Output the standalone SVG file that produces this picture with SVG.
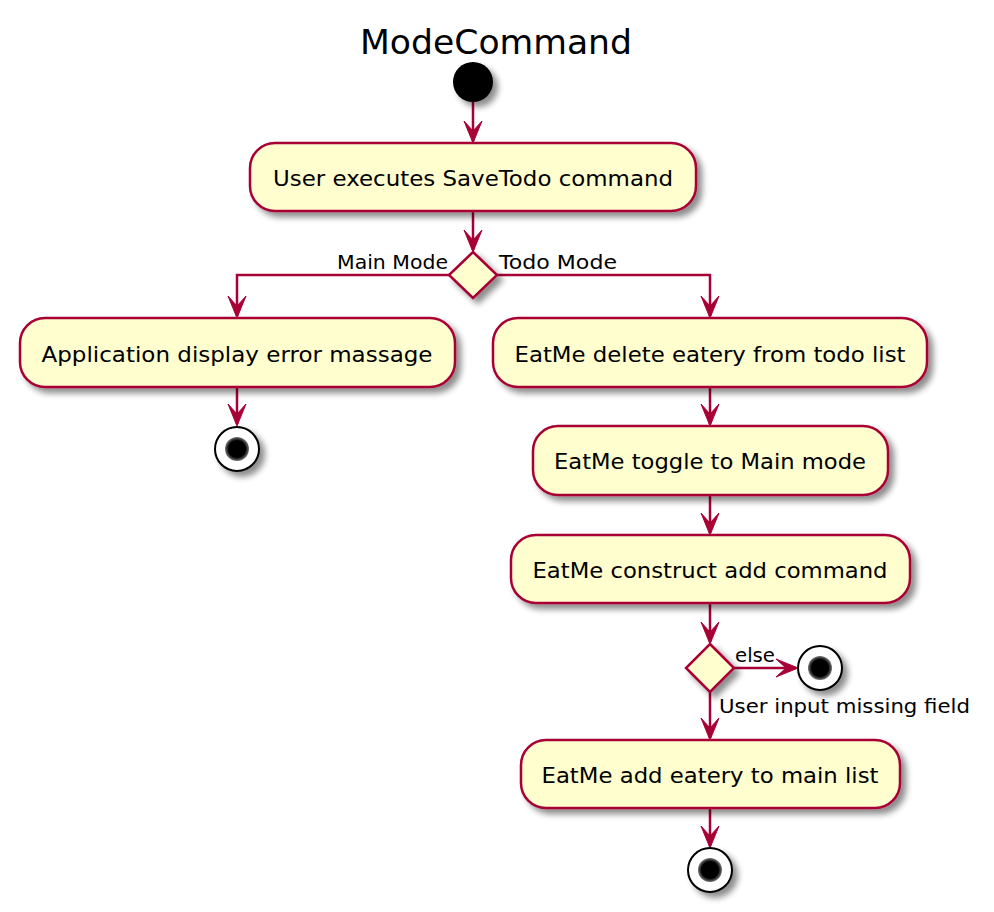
<svg xmlns="http://www.w3.org/2000/svg" width="994" height="912" viewBox="0 0 994 912">
<defs>
<filter id="sh" x="-20%" y="-20%" width="150%" height="160%">
<feGaussianBlur in="SourceAlpha" stdDeviation="3"/>
<feOffset dx="5" dy="5" result="b"/>
<feComponentTransfer><feFuncA type="linear" slope="0.45"/></feComponentTransfer>
<feMerge><feMergeNode/><feMergeNode in="SourceGraphic"/></feMerge>
</filter>
<radialGradient id="dot" cx="50%" cy="50%" r="50%">
<stop offset="70%" stop-color="#000"/>
<stop offset="100%" stop-color="#777"/>
</radialGradient>
</defs>
<style>
.act{fill:#FEFECE;stroke:#A80036;stroke-width:2.5}
.dia{fill:#FEFECE;stroke:#A80036;stroke-width:2.5}
.t{font-family:"DejaVu Sans",sans-serif;font-size:22px;fill:#000;text-anchor:middle}
.l{font-family:"DejaVu Sans",sans-serif;font-size:19px;fill:#000}
.ln{fill:none;stroke:#A80036;stroke-width:2.5}
.ah{fill:#A80036;stroke:#A80036;stroke-width:1}
.eo{fill:#fff;stroke:#000;stroke-width:2}
</style>
<rect width="994" height="912" fill="#fff"/>
<text x="496" y="54" font-family="DejaVu Sans,sans-serif" font-size="34" text-anchor="middle" textLength="272" lengthAdjust="spacingAndGlyphs">ModeCommand</text>

<g id="connectors">
<path class="ln" d="M473,102 V141"/>
<polygon class="ah" points="464,121 473,143 482,121 473,131"/>
<path class="ln" d="M473,211 V250"/>
<polygon class="ah" points="464,230 473,252 482,230 473,240"/>
<path class="ln" d="M449,275 H237 V316"/>
<polygon class="ah" points="228,296 237,318 246,296 237,306"/>
<path class="ln" d="M497,275 H710 V316"/>
<polygon class="ah" points="701,296 710,318 719,296 710,306"/>
<path class="ln" d="M237,387 V424"/>
<polygon class="ah" points="228,404 237,426 246,404 237,414"/>
<path class="ln" d="M710,387 V424"/>
<polygon class="ah" points="701,404 710,426 719,404 710,414"/>
<path class="ln" d="M710,495 V533"/>
<polygon class="ah" points="701,513 710,535 719,513 710,523"/>
<path class="ln" d="M710,603 V642"/>
<polygon class="ah" points="701,622 710,644 719,622 710,632"/>
<path class="ln" d="M734,668 H796"/>
<polygon class="ah" points="776,659 798,668 776,677 786,668"/>
<path class="ln" d="M710,692 V738"/>
<polygon class="ah" points="701,718 710,740 719,718 710,728"/>
<path class="ln" d="M710,808 V846"/>
<polygon class="ah" points="701,826 710,848 719,826 710,836"/>
<text class="l" x="448" y="269" text-anchor="end" textLength="111" lengthAdjust="spacingAndGlyphs">Main Mode</text>
<text class="l" x="499" y="269" textLength="118" lengthAdjust="spacingAndGlyphs">Todo Mode</text>
<text class="l" x="735" y="662" textLength="40" lengthAdjust="spacingAndGlyphs">else</text>
<text class="l" x="719" y="713" textLength="251" lengthAdjust="spacingAndGlyphs">User input missing field</text>
</g>

<g id="start"><circle cx="473" cy="82" r="20" fill="#000" filter="url(#sh)"/></g>

<g id="a1"><rect class="act" x="250" y="143" width="446" height="68" rx="25" filter="url(#sh)"/>
<text class="t" x="473" y="186" textLength="400" lengthAdjust="spacingAndGlyphs">User executes SaveTodo command</text></g>

<g id="d1"><polygon class="dia" points="473,252 497,275 473,298 449,275" filter="url(#sh)"/></g>

<g id="a2"><rect class="act" x="20" y="318" width="435" height="69" rx="25" filter="url(#sh)"/>
<text class="t" x="237" y="362" textLength="391" lengthAdjust="spacingAndGlyphs">Application display error massage</text></g>

<g id="end1"><circle class="eo" cx="237" cy="449" r="22" filter="url(#sh)"/><circle cx="237" cy="449" r="12" fill="url(#dot)"/></g>

<g id="a3"><rect class="act" x="493" y="318" width="434" height="69" rx="25" filter="url(#sh)"/>
<text class="t" x="710" y="362" textLength="391" lengthAdjust="spacingAndGlyphs">EatMe delete eatery from todo list</text></g>

<g id="a4"><rect class="act" x="533" y="426" width="355" height="69" rx="25" filter="url(#sh)"/>
<text class="t" x="710" y="469" textLength="312" lengthAdjust="spacingAndGlyphs">EatMe toggle to Main mode</text></g>

<g id="a5"><rect class="act" x="511" y="535" width="399" height="68" rx="25" filter="url(#sh)"/>
<text class="t" x="710" y="578" textLength="355" lengthAdjust="spacingAndGlyphs">EatMe construct add command</text></g>

<g id="d2"><polygon class="dia" points="710,644 734,668 710,692 686,668" filter="url(#sh)"/></g>

<g id="end2"><circle class="eo" cx="820" cy="668" r="22" filter="url(#sh)"/><circle cx="820" cy="668" r="12" fill="url(#dot)"/></g>

<g id="a6"><rect class="act" x="521" y="740" width="379" height="68" rx="25" filter="url(#sh)"/>
<text class="t" x="710" y="783" textLength="337" lengthAdjust="spacingAndGlyphs">EatMe add eatery to main list</text></g>

<g id="end3"><circle class="eo" cx="710" cy="870" r="22" filter="url(#sh)"/><circle cx="710" cy="870" r="12" fill="url(#dot)"/></g>
</svg>
